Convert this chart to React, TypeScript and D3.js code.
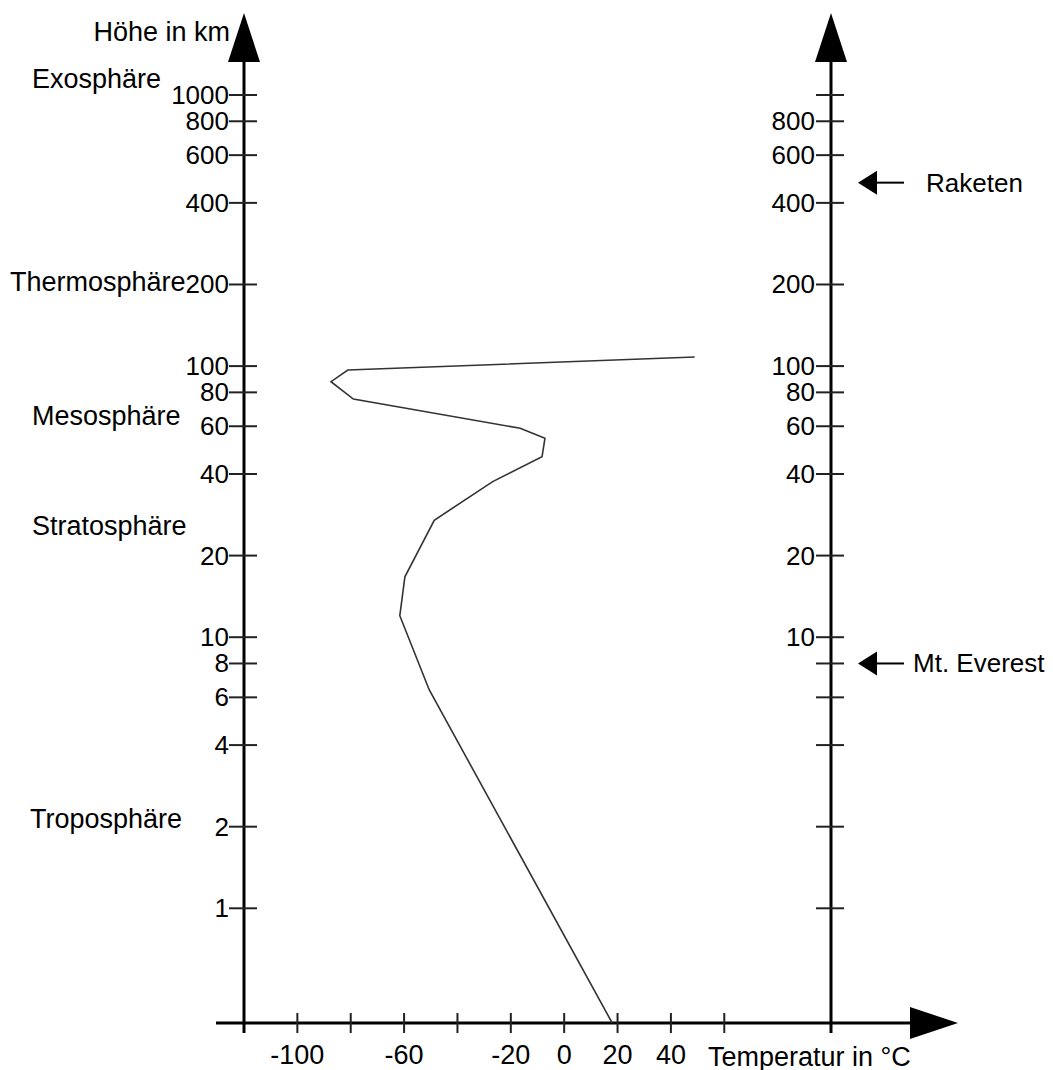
import React from "react";
import * as d3 from "d3";

// Temperature profile: altitude (km) and temperature (°C)
const altitudes = [0, 6.4, 12, 16.7, 27, 37.5, 46.3, 54.2, 59, 75.6, 87.6, 96.7, 108];
const temperatures = [18, -50.6, -61.6, -59.7, -48.7, -26.8, -8.3, -7.2, -16.5, -79, -87.4, -81.1, 48.9];

const heightTicks = [1, 2, 4, 6, 8, 10, 20, 40, 60, 80, 100, 200, 400, 600, 800, 1000];
const leftLabels = [1, 2, 4, 6, 8, 10, 20, 40, 60, 80, 100, 200, 400, 600, 800, 1000];
const rightLabels = [10, 20, 40, 60, 80, 100, 200, 400, 600, 800];
const tempTicks = [-100, -80, -60, -40, -20, 0, 20, 40, 60];
const tempLabels = [-100, -60, -20, 0, 20, 40];

const layers = ["Exosphäre", "Thermosphäre", "Mesosphäre", "Stratosphäre", "Troposphäre"];
const layerPos = [
  { x: 32, y: 88 },
  { x: 10, y: 291 },
  { x: 32, y: 425 },
  { x: 32, y: 535 },
  { x: 30, y: 828 },
];

const markerNames = ["Raketen", "Mt. Everest"];
const markerHeights = [475, 8];
const markerTextX = [926, 913];

const W = 1053;
const H = 1070;
const FONT = "'Liberation Sans', Arial, sans-serif";

export default function App() {
  const x = d3.scaleLinear().domain([-120, 100]).range([244, 831]);
  const yLog = d3.scaleLog().domain([1, 1000]).range([908.3, 95]);
  const baseY = 1023;
  const y = (h: number) => (h <= 0 ? baseY : yLog(h));

  const leftX = x(-120);
  const rightX = x(100);

  const pts: [number, number][] = altitudes.map((h, i) => [x(temperatures[i]), y(h)]);
  const line = d3.line()(pts) || "";

  const axisColor = "#000";
  const tickColor = "#222";

  return (
    <svg
      width={W}
      height={H}
      style={{ position: "absolute", left: 0, top: 0, background: "#fff" }}
      fontFamily={FONT}
    >
      <rect x={0} y={0} width={W} height={H} fill="#fff" />

      {/* vertical axes */}
      {[leftX, rightX].map((ax, i) => (
        <g key={"ax" + i}>
          <line x1={ax} x2={ax} y1={60} y2={1033} stroke={axisColor} strokeWidth={3} />
          <path d={`M${ax},13 L${ax - 16},62 L${ax + 16},62 Z`} fill="#000" />
          {heightTicks.map((t) => (
            <line
              key={t}
              x1={ax - 15}
              x2={ax + 13}
              y1={y(t)}
              y2={y(t)}
              stroke={tickColor}
              strokeWidth={2}
            />
          ))}
        </g>
      ))}

      {/* left tick labels */}
      {leftLabels.map((t) => (
        <text
          key={"ll" + t}
          x={leftX - 15}
          y={y(t) + 9}
          fontSize={26}
          textAnchor="end"
          fill="#000"
        >
          {t}
        </text>
      ))}
      {/* right tick labels */}
      {rightLabels.map((t) => (
        <text
          key={"rl" + t}
          x={rightX - 16}
          y={y(t) + 9}
          fontSize={26}
          textAnchor="end"
          fill="#000"
        >
          {t}
        </text>
      ))}

      {/* y axis title */}
      <text x={230} y={41} fontSize={27} textAnchor="end" fill="#000">
        Höhe in km
      </text>

      {/* x axis */}
      <line x1={216} x2={912} y1={baseY} y2={baseY} stroke={axisColor} strokeWidth={3} />
      <path d={`M958,${baseY} L910,${baseY - 16} L910,${baseY + 16} Z`} fill="#000" />
      {tempTicks.map((t) => (
        <line
          key={"xt" + t}
          x1={x(t)}
          x2={x(t)}
          y1={baseY - 10}
          y2={baseY + 10}
          stroke={tickColor}
          strokeWidth={2}
        />
      ))}
      {tempLabels.map((t) => (
        <text
          key={"xl" + t}
          x={x(t)}
          y={1064}
          fontSize={27}
          textAnchor="middle"
          fill="#000"
        >
          {t}
        </text>
      ))}
      <text x={708} y={1066} fontSize={27} fill="#000">
        Temperatur in °C
      </text>

      {/* layer names */}
      {layers.map((name, i) => (
        <text key={name} x={layerPos[i].x} y={layerPos[i].y} fontSize={27} fill="#000">
          {name}
        </text>
      ))}

      {/* markers */}
      {markerNames.map((name, i) => {
        const my = y(markerHeights[i]);
        return (
          <g key={name}>
            <line x1={872} x2={904} y1={my} y2={my} stroke="#000" strokeWidth={2} />
            <path d={`M858,${my} L877,${my - 12} L877,${my + 12} Z`} fill="#000" />
            <text x={markerTextX[i]} y={my + 9} fontSize={26} fill="#000">
              {name}
            </text>
          </g>
        );
      })}

      {/* temperature curve */}
      <path d={line} fill="none" stroke="#333" strokeWidth={1.6} strokeLinejoin="miter" />
    </svg>
  );
}
